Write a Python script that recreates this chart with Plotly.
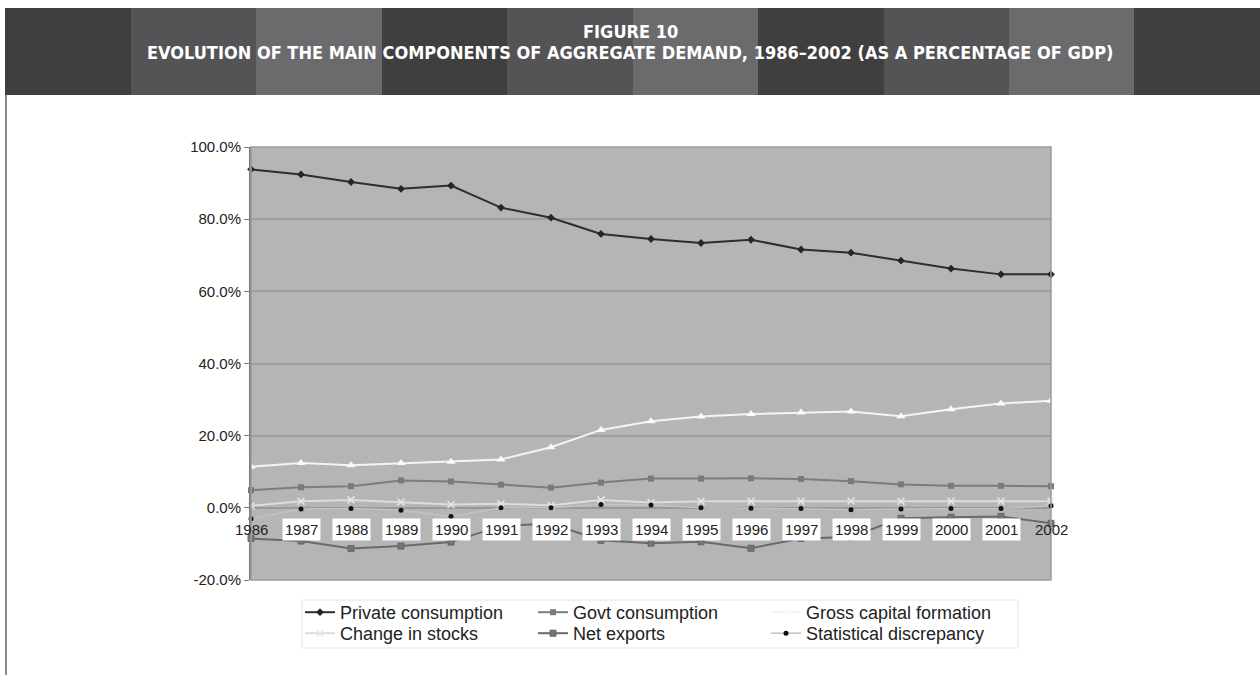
import plotly.graph_objects as go

years = list(range(1986, 2003))
private_consumption = [93.8, 92.4, 90.3, 88.4, 89.3, 83.2, 80.4, 75.9, 74.5, 73.4, 74.3, 71.6, 70.7, 68.5, 66.3, 64.7, 64.7]
govt_consumption = [4.9, 5.7, 6.0, 7.6, 7.3, 6.4, 5.6, 7.0, 8.1, 8.1, 8.2, 8.0, 7.4, 6.5, 6.1, 6.1, 6.0]
gross_capital_formation = [11.4, 12.4, 11.8, 12.4, 12.8, 13.4, 16.8, 21.6, 24.0, 25.3, 26.0, 26.4, 26.7, 25.4, 27.3, 28.9, 29.7]
change_in_stocks = [0.6, 1.8, 2.2, 1.6, 0.9, 1.1, 0.7, 2.2, 1.5, 1.8, 1.8, 1.8, 1.9, 1.8, 1.8, 1.8, 1.8]
net_exports = [-8.5, -9.2, -11.3, -10.6, -9.5, -5.0, -4.4, -9.0, -9.8, -9.4, -11.2, -8.5, -8.1, -2.9, -2.6, -2.4, -4.3]
statistical_discrepancy = [-3.0, -0.3, -0.2, -0.7, -2.4, 0.0, 0.0, 0.9, 0.8, 0.0, -0.1, -0.2, -0.5, -0.3, -0.2, -0.2, 0.6]

y_ticks = [-20, 0, 20, 40, 60, 80, 100]

title_line1 = "FIGURE 10"
title_line2 = "EVOLUTION OF THE MAIN COMPONENTS OF AGGREGATE DEMAND, 1986–2002 (AS A PERCENTAGE OF GDP)"

W, H = 1260, 675
ML, MR, MT, MB = 251, 209, 147, 95
PW, PH = W - ML - MR, H - MT - MB


def px_x(p):
    return (p - ML) / PW


def px_y(p):
    return 1 - (p - MT) / PH


FONT = "Liberation Sans, Arial, sans-serif"
TITLE_FONT = "DejaVu Sans Condensed, DejaVu Sans, sans-serif"

fig = go.Figure()

series = [
    ("Private consumption", private_consumption, dict(color="#2e2e2e", width=2), dict(symbol="diamond", size=6, color="#262626"), "legend"),
    ("Govt consumption", govt_consumption, dict(color="#7c7c7c", width=2), dict(symbol="square", size=6, color="#7a7a7a"), "legend"),
    ("Gross capital formation", gross_capital_formation, dict(color="#f4f4f4", width=2), dict(symbol="triangle-up", size=8, color="#fafafa"), "legend"),
    ("Change in stocks", change_in_stocks, dict(color="#dcdcdc", width=2), dict(symbol="x-thin", size=7, color="#e6e6e6", line=dict(width=1.5, color="#e6e6e6")), "legend2"),
    ("Net exports", net_exports, dict(color="#6a6a6a", width=2), dict(symbol="square", size=6, color="#747474", line=dict(width=1, color="#666666")), "legend2"),
    ("Statistical discrepancy", statistical_discrepancy, dict(color="#c2c2c2", width=1.5), dict(symbol="circle", size=5, color="#111111"), "legend2"),
]

for name, vals, line, marker, leg in series:
    fig.add_trace(go.Scatter(
        x=years, y=vals, name=name, mode="lines+markers",
        line=line, marker=marker, cliponaxis=False, legend=leg,
    ))

# header stripes
bounds = [5, 131, 256, 382, 507, 633, 758, 884, 1009, 1134, 1260]
stripe_colors = ["#3f3f3f", "#545456", "#6b6b6e"]
shapes = []
for i in range(len(bounds) - 1):
    shapes.append(dict(type="rect", xref="paper", yref="paper",
                       x0=px_x(bounds[i]), x1=px_x(bounds[i + 1]),
                       y0=px_y(95), y1=px_y(8),
                       fillcolor=stripe_colors[i % 3] if i < len(bounds) - 2 else "#3f3f3f",
                       line=dict(width=0), layer="below"))
# left page border
shapes.append(dict(type="line", xref="paper", yref="paper",
                   x0=px_x(6), x1=px_x(6), y0=px_y(95), y1=px_y(675),
                   line=dict(color="#8a8a8a", width=2)))
# plot border
shapes.append(dict(type="rect", xref="paper", yref="paper", x0=0, x1=1, y0=0, y1=1,
                   line=dict(color="#9c9c9c", width=1.5), layer="above"))
# legend box
shapes.append(dict(type="rect", xref="paper", yref="paper",
                   x0=px_x(302), x1=px_x(1018), y0=px_y(648), y1=px_y(600),
                   fillcolor="white", line=dict(color="#e2e2e2", width=1), layer="above"))

annotations = [
    dict(text="<b>" + title_line1 + "</b>", xref="paper", yref="paper",
         x=px_x(630), y=px_y(31), xanchor="center", yanchor="middle", showarrow=False,
         font=dict(family=TITLE_FONT, size=18, color="white")),
    dict(text="<b>" + title_line2 + "</b>", xref="paper", yref="paper",
         x=px_x(630), y=px_y(52), xanchor="center", yanchor="middle", showarrow=False,
         font=dict(family=TITLE_FONT, size=18, color="white")),
]
for i, yr in enumerate(years):
    edge = i == 0 or i == len(years) - 1
    annotations.append(dict(
        text=str(yr), x=yr, y=0, xref="x", yref="y", showarrow=False,
        yanchor="top", yshift=-10,
        font=dict(family=FONT, size=15, color="#222222"),
        bgcolor=None if edge else "white", borderpad=2,
    ))

legend_common = dict(
    orientation="h", xanchor="left", yanchor="top",
    bgcolor="rgba(0,0,0,0)", borderwidth=0,
    font=dict(family=FONT, size=18, color="#222222"),
    entrywidth=188, entrywidthmode="pixels", traceorder="normal",
    itemclick=False,
)

fig.update_layout(
    width=W, height=H,
    margin=dict(l=ML, r=MR, t=MT, b=MB),
    paper_bgcolor="white",
    plot_bgcolor="#b5b5b5",
    shapes=shapes,
    annotations=annotations,
    showlegend=True,
    legend=dict(x=px_x(300), y=px_y(594), **legend_common),
    legend2=dict(x=px_x(300), y=px_y(615), **legend_common),
    xaxis=dict(range=[1986, 2002], showticklabels=False, showgrid=False,
               zeroline=False, showline=False, ticks=""),
    yaxis=dict(range=[-20, 100], tickvals=y_ticks,
               ticktext=[f"{v:.1f}%" for v in y_ticks],
               tickfont=dict(family=FONT, size=15, color="#222222"),
               showgrid=True, gridcolor="#9f9f9f", gridwidth=1.5,
               zeroline=True, zerolinecolor="#999999", zerolinewidth=1.5,
               showline=True, linecolor="#7a7a7a", linewidth=2,
               ticks="outside", ticklen=5, tickcolor="#7a7a7a"),
)

fig.write_html("out.html")
